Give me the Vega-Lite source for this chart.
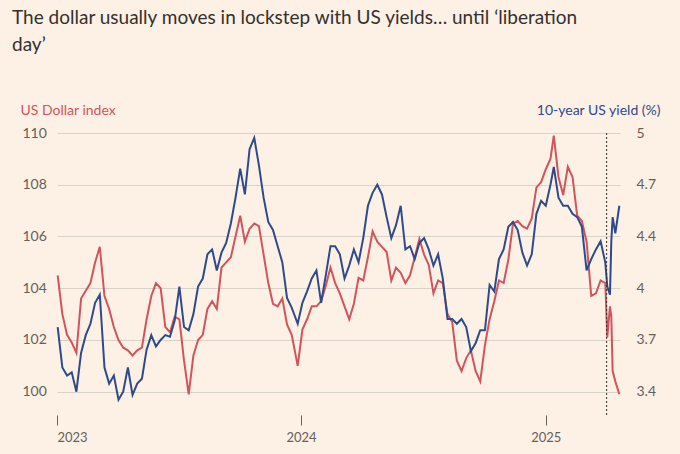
{
  "$schema": "https://vega.github.io/schema/vega-lite/v6.json",
  "width": 563,
  "height": 282,
  "padding": {"left": 57, "right": 60, "top": 133, "bottom": 39},
  "autosize": {"type": "none"},
  "background": "#fdf1e5",
  "view": {"stroke": null},
  "title": {
    "text": ["The dollar usually moves in lockstep with US yields… until ‘liberation", "day’"],
    "anchor": "start",
    "frame": "group",
    "dx": -45,
    "dy": -44,
    "font": "Lato",
    "fontSize": 19,
    "fontWeight": "normal",
    "lineHeight": 27,
    "color": "#33302e"
  },
  "datasets": {
    "series": [
      {"date": "2023-01-02", "dxy": 104.5, "yield": 3.80},
      {"date": "2023-01-09", "dxy": 103.0, "yield": 3.55},
      {"date": "2023-01-16", "dxy": 102.2, "yield": 3.50},
      {"date": "2023-01-23", "dxy": 101.9, "yield": 3.52},
      {"date": "2023-01-30", "dxy": 101.5, "yield": 3.40},
      {"date": "2023-02-06", "dxy": 103.6, "yield": 3.64},
      {"date": "2023-02-13", "dxy": 103.9, "yield": 3.75},
      {"date": "2023-02-20", "dxy": 104.2, "yield": 3.82},
      {"date": "2023-02-27", "dxy": 105.0, "yield": 3.95},
      {"date": "2023-03-06", "dxy": 105.6, "yield": 4.00},
      {"date": "2023-03-13", "dxy": 103.7, "yield": 3.55},
      {"date": "2023-03-20", "dxy": 103.2, "yield": 3.45},
      {"date": "2023-03-27", "dxy": 102.5, "yield": 3.50},
      {"date": "2023-04-03", "dxy": 102.0, "yield": 3.35},
      {"date": "2023-04-10", "dxy": 101.7, "yield": 3.40},
      {"date": "2023-04-17", "dxy": 101.6, "yield": 3.55},
      {"date": "2023-04-24", "dxy": 101.4, "yield": 3.38},
      {"date": "2023-05-01", "dxy": 101.6, "yield": 3.45},
      {"date": "2023-05-08", "dxy": 101.7, "yield": 3.48},
      {"date": "2023-05-15", "dxy": 102.8, "yield": 3.66},
      {"date": "2023-05-22", "dxy": 103.7, "yield": 3.75},
      {"date": "2023-05-29", "dxy": 104.2, "yield": 3.68},
      {"date": "2023-06-05", "dxy": 104.0, "yield": 3.72},
      {"date": "2023-06-12", "dxy": 102.5, "yield": 3.75},
      {"date": "2023-06-19", "dxy": 102.3, "yield": 3.74},
      {"date": "2023-06-26", "dxy": 102.9, "yield": 3.84},
      {"date": "2023-07-03", "dxy": 102.8, "yield": 4.05},
      {"date": "2023-07-10", "dxy": 101.2, "yield": 3.80},
      {"date": "2023-07-17", "dxy": 99.9, "yield": 3.78},
      {"date": "2023-07-24", "dxy": 101.4, "yield": 3.88},
      {"date": "2023-07-31", "dxy": 102.0, "yield": 4.05},
      {"date": "2023-08-07", "dxy": 102.2, "yield": 4.10},
      {"date": "2023-08-14", "dxy": 103.2, "yield": 4.25},
      {"date": "2023-08-21", "dxy": 103.5, "yield": 4.28},
      {"date": "2023-08-28", "dxy": 103.2, "yield": 4.15},
      {"date": "2023-09-04", "dxy": 104.8, "yield": 4.26},
      {"date": "2023-09-11", "dxy": 105.0, "yield": 4.32},
      {"date": "2023-09-18", "dxy": 105.2, "yield": 4.44},
      {"date": "2023-09-25", "dxy": 106.0, "yield": 4.60},
      {"date": "2023-10-02", "dxy": 106.8, "yield": 4.78},
      {"date": "2023-10-09", "dxy": 105.8, "yield": 4.62},
      {"date": "2023-10-16", "dxy": 106.3, "yield": 4.90},
      {"date": "2023-10-23", "dxy": 106.5, "yield": 4.97},
      {"date": "2023-10-30", "dxy": 106.4, "yield": 4.80},
      {"date": "2023-11-06", "dxy": 105.3, "yield": 4.60},
      {"date": "2023-11-13", "dxy": 104.2, "yield": 4.45},
      {"date": "2023-11-20", "dxy": 103.4, "yield": 4.40},
      {"date": "2023-11-27", "dxy": 103.3, "yield": 4.30},
      {"date": "2023-12-04", "dxy": 103.6, "yield": 4.20},
      {"date": "2023-12-11", "dxy": 102.6, "yield": 3.98},
      {"date": "2023-12-18", "dxy": 102.2, "yield": 3.92},
      {"date": "2023-12-27", "dxy": 101.0, "yield": 3.82},
      {"date": "2024-01-03", "dxy": 102.4, "yield": 3.95},
      {"date": "2024-01-10", "dxy": 102.8, "yield": 4.02},
      {"date": "2024-01-17", "dxy": 103.3, "yield": 4.10},
      {"date": "2024-01-24", "dxy": 103.3, "yield": 4.15},
      {"date": "2024-01-31", "dxy": 103.5, "yield": 3.95},
      {"date": "2024-02-07", "dxy": 104.1, "yield": 4.12},
      {"date": "2024-02-14", "dxy": 104.8, "yield": 4.30},
      {"date": "2024-02-21", "dxy": 104.2, "yield": 4.30},
      {"date": "2024-02-28", "dxy": 103.8, "yield": 4.25},
      {"date": "2024-03-06", "dxy": 103.3, "yield": 4.10},
      {"date": "2024-03-13", "dxy": 102.8, "yield": 4.18},
      {"date": "2024-03-20", "dxy": 103.4, "yield": 4.28},
      {"date": "2024-03-27", "dxy": 104.4, "yield": 4.20},
      {"date": "2024-04-03", "dxy": 104.3, "yield": 4.35},
      {"date": "2024-04-10", "dxy": 105.2, "yield": 4.55},
      {"date": "2024-04-17", "dxy": 106.2, "yield": 4.63},
      {"date": "2024-04-24", "dxy": 105.8, "yield": 4.68},
      {"date": "2024-05-01", "dxy": 105.6, "yield": 4.62},
      {"date": "2024-05-08", "dxy": 105.4, "yield": 4.48},
      {"date": "2024-05-15", "dxy": 104.3, "yield": 4.35},
      {"date": "2024-05-22", "dxy": 104.8, "yield": 4.43},
      {"date": "2024-05-29", "dxy": 104.6, "yield": 4.55},
      {"date": "2024-06-05", "dxy": 104.2, "yield": 4.28},
      {"date": "2024-06-12", "dxy": 104.5, "yield": 4.30},
      {"date": "2024-06-19", "dxy": 105.2, "yield": 4.22},
      {"date": "2024-06-26", "dxy": 105.9, "yield": 4.32},
      {"date": "2024-07-03", "dxy": 105.3, "yield": 4.35},
      {"date": "2024-07-10", "dxy": 104.9, "yield": 4.28},
      {"date": "2024-07-17", "dxy": 103.8, "yield": 4.18},
      {"date": "2024-07-24", "dxy": 104.3, "yield": 4.25},
      {"date": "2024-07-31", "dxy": 104.2, "yield": 4.10},
      {"date": "2024-08-07", "dxy": 103.0, "yield": 3.85},
      {"date": "2024-08-14", "dxy": 102.7, "yield": 3.85},
      {"date": "2024-08-21", "dxy": 101.2, "yield": 3.82},
      {"date": "2024-08-28", "dxy": 100.8, "yield": 3.85},
      {"date": "2024-09-04", "dxy": 101.3, "yield": 3.80},
      {"date": "2024-09-11", "dxy": 101.6, "yield": 3.65},
      {"date": "2024-09-18", "dxy": 100.8, "yield": 3.70},
      {"date": "2024-09-25", "dxy": 100.4, "yield": 3.78},
      {"date": "2024-10-02", "dxy": 101.8, "yield": 3.78},
      {"date": "2024-10-09", "dxy": 102.8, "yield": 4.06},
      {"date": "2024-10-16", "dxy": 103.5, "yield": 4.02},
      {"date": "2024-10-23", "dxy": 104.3, "yield": 4.22},
      {"date": "2024-10-30", "dxy": 104.2, "yield": 4.28},
      {"date": "2024-11-06", "dxy": 105.1, "yield": 4.42},
      {"date": "2024-11-13", "dxy": 106.5, "yield": 4.45},
      {"date": "2024-11-20", "dxy": 106.6, "yield": 4.40},
      {"date": "2024-11-27", "dxy": 106.4, "yield": 4.26},
      {"date": "2024-12-04", "dxy": 106.3, "yield": 4.18},
      {"date": "2024-12-11", "dxy": 106.7, "yield": 4.25},
      {"date": "2024-12-18", "dxy": 107.9, "yield": 4.50},
      {"date": "2024-12-25", "dxy": 108.1, "yield": 4.58},
      {"date": "2025-01-01", "dxy": 108.6, "yield": 4.55},
      {"date": "2025-01-08", "dxy": 109.0, "yield": 4.68},
      {"date": "2025-01-13", "dxy": 109.9, "yield": 4.79},
      {"date": "2025-01-20", "dxy": 108.3, "yield": 4.60},
      {"date": "2025-01-27", "dxy": 107.6, "yield": 4.55},
      {"date": "2025-02-03", "dxy": 108.7, "yield": 4.55},
      {"date": "2025-02-10", "dxy": 108.3, "yield": 4.50},
      {"date": "2025-02-17", "dxy": 106.8, "yield": 4.48},
      {"date": "2025-02-24", "dxy": 106.6, "yield": 4.42},
      {"date": "2025-03-03", "dxy": 105.8, "yield": 4.15},
      {"date": "2025-03-10", "dxy": 103.7, "yield": 4.22},
      {"date": "2025-03-17", "dxy": 103.8, "yield": 4.28},
      {"date": "2025-03-24", "dxy": 104.3, "yield": 4.33},
      {"date": "2025-03-31", "dxy": 104.2, "yield": 4.20},
      {"date": "2025-04-03", "dxy": 102.1, "yield": 4.05},
      {"date": "2025-04-07", "dxy": 103.3, "yield": 4.00},
      {"date": "2025-04-09", "dxy": 102.9, "yield": 4.33},
      {"date": "2025-04-11", "dxy": 100.8, "yield": 4.48},
      {"date": "2025-04-15", "dxy": 100.4, "yield": 4.38},
      {"date": "2025-04-21", "dxy": 99.9, "yield": 4.55}
    ],
    "marker": [{"date": "2025-04-02"}]
  },
  "layer": [
    {
      "data": {"name": "series"},
      "mark": {"type": "line", "color": "#d1545c", "strokeWidth": 2},
      "encoding": {
        "x": {
          "field": "date", "type": "temporal", "title": null,
          "scale": {"domain": ["2023-01-01", "2025-04-22"]},
          "axis": {
            "values": ["2023-01-01", "2024-01-01", "2025-01-01"],
            "format": "%Y", "grid": false, "domain": false,
            "tickColor": "#66605c", "tickSize": 10, "tickOffset": 0,
            "labelFont": "Lato", "labelFontSize": 13, "labelColor": "#66605c",
            "labelPadding": 6, "offset": 0
          }
        },
        "y": {
          "field": "dxy", "type": "quantitative", "title": "US Dollar index",
          "scale": {"domain": [99.1, 110], "nice": false, "zero": false},
          "axis": {
            "values": [100, 102, 104, 106, 108, 110],
            "domain": false, "ticks": false, "gridColor": "#d9d2c9",
            "labelFont": "Lato", "labelFontSize": 14, "labelColor": "#66605c",
            "labelPadding": 35, "labelAlign": "left", "labelBaseline": "middle",
            "titleAngle": 0, "titleAlign": "left", "titleBaseline": "bottom",
            "titleX": -37, "titleY": -16, "titleFont": "Lato", "titleFontSize": 14,
            "titleFontWeight": "normal", "titleColor": "#d1545c"
          }
        }
      }
    },
    {
      "data": {"name": "series"},
      "mark": {"type": "line", "color": "#2e4a8c", "strokeWidth": 2},
      "encoding": {
        "x": {"field": "date", "type": "temporal"},
        "y": {
          "field": "yield", "type": "quantitative", "title": "10-year US yield (%)",
          "scale": {"domain": [3.256, 5], "nice": false, "zero": false},
          "axis": {
            "orient": "right",
            "values": [3.4, 3.72, 4.04, 4.36, 4.68, 5],
            "labelExpr": "format(datum.value, '.1~f')",
            "domain": false, "ticks": false, "grid": false,
            "labelFont": "Lato", "labelFontSize": 14, "labelColor": "#66605c",
            "labelPadding": 16,
            "titleAngle": 0, "titleAlign": "right", "titleBaseline": "bottom",
            "titleX": 40, "titleY": -16, "titleFont": "Lato", "titleFontSize": 14,
            "titleFontWeight": "normal", "titleColor": "#2e4a8c"
          }
        }
      }
    },
    {
      "data": {"name": "marker"},
      "mark": {"type": "rule", "color": "#33302e", "strokeDash": [2, 2], "strokeWidth": 1},
      "encoding": {
        "x": {"field": "date", "type": "temporal"}
      }
    }
  ],
  "resolve": {"scale": {"y": "independent"}},
  "config": {"axis": {"labelFont": "Lato"}}
}
